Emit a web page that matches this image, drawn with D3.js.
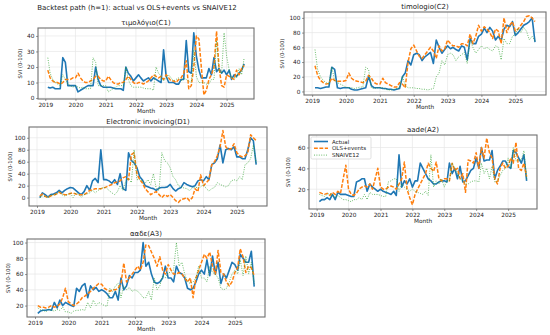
<!DOCTYPE html>
<html><head><meta charset="utf-8">
<script src="https://cdn.jsdelivr.net/npm/d3@7"></script>
<style>body{margin:0;background:#fff}svg{display:block;font-family:"DejaVu Sans",sans-serif}</style>
</head><body><svg id="c" width="550" height="335"></svg>
<script>
const yearTicks = ["2019","2020","2021","2022","2023","2024","2025"];
const seriesNames = ["Actual","OLS+events","SNAIVE12"];

// τιμολόγιο(C1)
const c1Actual = [7,6.5,7,6,6,6,26,23,8,8,8, 8,4,5,6,7,8,8,8,20,12,8,7, 7,7,7,6.5,6,6,6,5,20,16,14,11, 13,15,13,11,12,13,11,13,12,11,10,31, 14,10,10,10,9,9,12,12,37,17,16,42, 27,18,13,13,13,19,15,26,17,19,16,18, 15,18,12,15,14,16,18,22];
const c1Ols = [18,13,11,10,10,9,10,12,12,12,13, 13,16,13,11,10,10,11,12,14,14,12,11, 11,14,12,10,9,9,10,10,12,14,12,10, 9,10,10,9,10,11,13,15,14,13,14,12, 15,13,11,11,10,12,13,16,24,6,8,20, 40,38,20,2,5,12,15,20,43,20,8,7, 15,14,13,12,18,15,19,21];
const c1Snaive = [26,16,12,10,9,8,15,12,9,8,7, 8,7,6.5,7,6,6,6,26,23,8,8,8, 8,4,5,6,7,8,8,8,20,12,8,7, 7,7,7,6.5,6,6,6,5,20,16,14,11, 13,15,13,11,12,13,11,13,12,11,10,31, 14,10,10,10,9,9,12,12,37,17,16,42, 27,18,13,13,13,19,15,26];

// timologio(C2)
const c2Actual = [5,5,4,5,6,6,33,30,5,4,5, 5,5,3,2,2,3,4,5,21,8,5,5, 5,4,4,3,3,2,3,4,20,25,42,36, 50,52,50,42,47,50,53,38,70,60,52,57, 62,58,60,57,55,62,60,43,72,65,65,75, 78,86,80,87,82,70,75,69,85,90,88,95, 76,80,85,90,92,95,100,67];
const c2Ols = [35,22,15,12,10,11,18,15,14,14,14, 15,25,18,15,14,13,12,14,22,18,12,10, 10,18,12,10,8,6,6,12,10,5,40,58, 63,55,48,45,50,55,60,55,45,62,55,58, 70,65,62,62,60,65,65,62,78,65,75,90, 82,88,85,80,72,85,82,65,100,80,90,95, 82,85,90,95,102,103,100,95];
const c2Snaive = [57,30,20,15,12,10,33,15,12,10,8, 6,5,5,4,5,6,6,33,30,5,4,5, 5,5,3,2,2,3,4,5,21,8,5,5, 5,4,4,3,3,2,3,4,20,25,42,36, 50,52,50,42,47,50,53,38,70,60,52,57, 62,58,60,57,55,62,60,43,72,65,65,75, 78,86,80,87,82,70,75,69];

// Electronic invoicing(D1)
const d1Actual = [0,8,5,1,5,6,8,12,8,12,15, 17,16,12,8,5,10,20,12,28,32,25,80, 30,30,28,24,30,22,40,15,12,75,62,58, 50,35,30,20,18,16,15,12,16,17,17,18, 22,15,11,15,17,25,22,20,18,20,28,30, 28,35,30,55,58,65,88,58,80,82,80,85, 68,68,65,65,80,100,95,55];
const d1Ols = [3,6,2,0,3,4,6,9,6,5,5, 7,8,6,5,5,5,8,12,13,15,15,15, 16,18,20,22,25,26,28,33,35,30,72,75, 40,30,25,15,10,5,8,10,5,0,5,2, 5,0,-5,-8,-3,-2,0,-5,0,15,10,38, 20,25,30,55,60,70,85,112,85,80,82,90, 75,70,68,70,75,105,100,95];
const d1Snaive = [0,3,2,0,3,5,5,10,5,3,5, 8,0,8,5,1,5,6,8,12,8,12,15, 17,16,12,8,5,10,20,12,28,32,25,80, 30,30,28,24,30,22,40,15,12,75,62,58, 50,35,30,20,18,16,15,12,16,17,17,18, 22,15,11,15,17,25,22,20,18,20,28,30, 28,35,30,55,58,65,88,58];

// aade(A2)
const a2Actual = [8,10,10,12,10,15,10,17,15,15,15, 14,13,13,27,28,30,30,18,25,22,20,18, 20,18,17,16,15,18,14,53,22,28,25,30, 22,28,28,45,40,35,30,28,25,25,27,28, 28,27,45,35,40,30,42,27,28,33,38,40, 50,40,60,47,48,48,57,30,38,42,47,47, 42,40,57,55,50,45,53,28];
const a2Ols = [17,16,15,16,14,17,15,18,16,30,43, 20,15,14,16,20,22,23,22,25,20,30,40, 22,20,20,22,23,22,20,25,30,46,20,12, 5,15,20,25,30,35,45,40,37,46,30,28, 30,30,28,45,38,40,30,35,17,48,47,45, 55,40,60,50,69,55,50,30,25,40,45,40, 42,50,45,65,40,38,45,32];
const a2Snaive = [15,14,13,15,16,14,12,14,12,10,10, 9,8,10,10,12,10,15,10,17,15,15,15, 14,13,13,27,28,30,30,18,25,22,20,18, 20,18,17,16,15,18,14,53,22,28,25,30, 22,28,28,45,40,35,30,28,25,25,27,28, 28,27,45,35,40,30,42,27,28,33,38,40, 50,40,60,47,48,48,57,30];

// ααδε(A3)
const a3Actual = [10,13,14,14,15,14,24,17,27,20,24, 22,20,19,42,38,45,48,30,45,40,43,38, 40,38,35,30,30,38,27,55,40,45,58,55, 62,62,65,100,70,75,60,50,48,50,55,70, 55,55,50,70,62,60,55,42,40,42,50,60, 65,60,78,58,83,60,75,48,60,55,65,75, 72,65,85,80,75,75,89,44];
const a3Ols = [20,18,18,17,18,20,18,19,22,30,42, 25,22,20,22,25,30,32,35,38,42,45,48, 47,42,40,38,40,40,42,48,74,50,55,60, 65,70,65,75,97,96,88,80,70,82,65,60, 72,65,60,60,62,60,55,50,55,30,55,65, 75,85,80,88,70,60,90,62,60,50,45,50, 62,68,92,82,62,70,68,58];
const a3Snaive = [17,15,14,12,15,14,13,15,14,18,12, 12,10,13,14,14,15,14,24,17,27,20,24, 22,20,19,42,38,45,48,30,45,40,43,38, 40,38,35,30,30,38,27,55,40,45,58,55, 62,62,65,100,70,75,60,50,48,50,55,70, 55,55,50,70,62,60,55,42,40,42,50,60, 65,60,78,58,83,60,75,48];

const months = d3.timeMonths(new Date(2019,1,1), new Date(2025,8,1)); // Feb 2019 .. Aug 2025
const t0 = +months[0], t1 = +months[months.length-1], span = t1 - t0;
const xDomain = [new Date(t0 - 0.05*span), new Date(t1 + 0.05*span)];
const colors = ["#1f77b4","#ff7f0e","#2ca02c"];

const svg = d3.select("#c");
svg.append("text").attr("x",137).attr("y",10).attr("text-anchor","middle")
  .attr("font-size",7).attr("fill","#222").text("Backtest path (h=1): actual vs OLS+events vs SNAIVE12");

const panels = [
  {title:"τιμολόγιο(C1)", s:[c1Actual,c1Ols,c1Snaive], x0:38,x1:254,y0:28,y1:99, yd:[-0.6,45.1], yt:[0,10,20,30,40], ylx:22},
  {title:"timologio(C2)", s:[c2Actual,c2Ols,c2Snaive], x0:304,x1:546,y0:12,y1:95, yd:[-4.8,108], yt:[0,20,40,60,80,100], ylx:284},
  {title:"Electronic invoicing(D1)", s:[d1Actual,d1Ols,d1Snaive], x0:29,x1:267,y0:127,y1:206, yd:[-14,118], yt:[0,20,40,60,80,100], ylx:12},
  {title:"aade(A2)", s:[a2Actual,a2Ols,a2Snaive], x0:309,x1:537,y0:135,y1:209, yd:[1,72], yt:[20,40,60], ylx:290, legend:true},
  {title:"ααδε(A3)", s:[a3Actual,a3Ols,a3Snaive], x0:27,x1:265,y0:239,y1:317, yd:[5.5,104.5], yt:[20,40,60,80,100], ylx:10}
];

const yearDates = yearTicks.map(s => new Date(+s,0,1));
const styles = [
  {w:1.6, dash:null, op:1},
  {w:1.5, dash:"3.8,1.6", op:1},
  {w:1.0, dash:"1,1.4", op:0.7}
];

panels.forEach(p => {
  const x = d3.scaleTime().domain(xDomain).range([p.x0,p.x1]);
  const y = d3.scaleLinear().domain(p.yd).range([p.y1,p.y0]);
  const g = svg.append("g");
  g.selectAll(null).data(yearDates).join("line")
    .attr("x1",d=>x(d)).attr("x2",d=>x(d)).attr("y1",p.y0).attr("y2",p.y1)
    .attr("stroke","#e6e6e6").attr("stroke-width",0.7);
  g.selectAll(null).data(p.yt).join("line")
    .attr("x1",p.x0).attr("x2",p.x1).attr("y1",d=>y(d)).attr("y2",d=>y(d))
    .attr("stroke","#e6e6e6").attr("stroke-width",0.7);
  const line = d3.line().x((d,i)=>x(months[i])).y(d=>y(d));
  p.s.forEach((arr,k) => {
    g.append("path").datum(arr).attr("d",line).attr("fill","none")
      .attr("stroke",colors[k]).attr("stroke-width",styles[k].w)
      .attr("stroke-dasharray",styles[k].dash).attr("stroke-opacity",styles[k].op)
      .attr("stroke-linejoin","round");
  });
  g.append("rect").attr("x",p.x0).attr("y",p.y0).attr("width",p.x1-p.x0).attr("height",p.y1-p.y0)
    .attr("fill","none").attr("stroke","#707070").attr("stroke-width",1.1);
  const xa = g.append("g").attr("transform",`translate(0,${p.y1})`)
    .call(d3.axisBottom(x).tickValues(yearDates).tickFormat(d3.timeFormat("%Y")).tickSize(2).tickPadding(1.5));
  const ya = g.append("g").attr("transform",`translate(${p.x0},0)`)
    .call(d3.axisLeft(y).tickValues(p.yt).tickSize(2).tickPadding(1.5));
  [xa,ya].forEach(a => {
    a.select(".domain").remove();
    a.selectAll("line").attr("stroke","#555").attr("stroke-width",0.6);
    a.selectAll("text").attr("font-size",5.8).attr("fill","#222").attr("font-family","DejaVu Sans");
  });
  g.append("text").attr("x",(p.x0+p.x1)/2).attr("y",p.y0-3).attr("text-anchor","middle")
    .attr("font-size",7).attr("fill","#222").text(p.title);
  g.append("text").attr("x",(p.x0+p.x1)/2).attr("y",p.y1+14).attr("text-anchor","middle")
    .attr("font-size",5.8).attr("fill","#222").text("Month");
  g.append("text").attr("transform",`translate(${p.ylx},${(p.y0+p.y1)/2}) rotate(-90)`)
    .attr("text-anchor","middle").attr("font-size",5.3).attr("fill","#222").text("SVI (0-100)");
  if (p.legend) {
    const lg = g.append("g").attr("transform",`translate(${p.x0+2},${p.y0+2})`);
    lg.append("rect").attr("width",60).attr("height",22).attr("rx",1.5)
      .attr("fill","#fff").attr("fill-opacity",0.8).attr("stroke","#ccc").attr("stroke-width",0.6);
    seriesNames.forEach((n,k) => {
      const yy = 4.5 + k*6.8;
      lg.append("line").attr("x1",3).attr("x2",17).attr("y1",yy).attr("y2",yy)
        .attr("stroke",colors[k]).attr("stroke-width",styles[k].w)
        .attr("stroke-dasharray",styles[k].dash).attr("stroke-opacity",styles[k].op);
      lg.append("text").attr("x",21).attr("y",yy+2).attr("font-size",5.5).attr("fill","#222").text(n);
    });
  }
});
</script></body></html>
